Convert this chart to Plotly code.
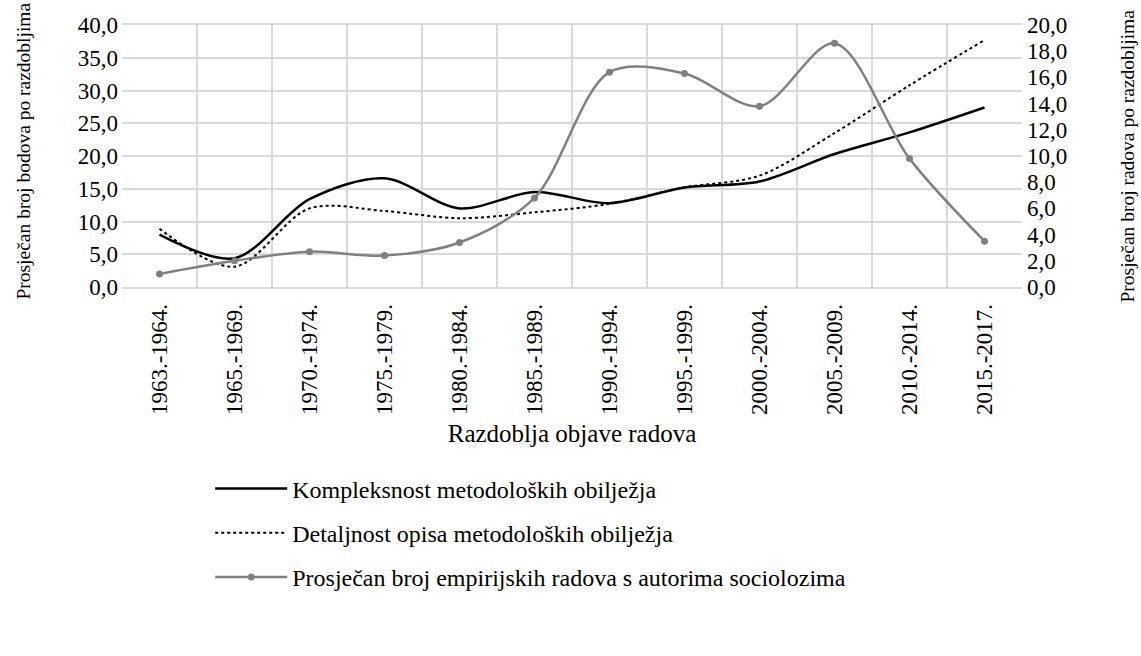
import plotly.graph_objects as go

razdoblja = ['1963.-1964.', '1965.-1969.', '1970.-1974.', '1975.-1979.', '1980.-1984.',
             '1985.-1989.', '1990.-1994.', '1995.-1999.', '2000.-2004.', '2005.-2009.',
             '2010.-2014.', '2015.-2017.']
kompleksnost = [8.0, 4.4, 13.4, 16.6, 12.0, 14.5, 12.8, 15.2, 16.1, 20.3, 23.6, 27.4]
detaljnost = [8.9, 3.1, 12.0, 11.6, 10.5, 11.4, 12.7, 15.2, 17.0, 23.5, 30.8, 37.7]
empirijski = [1.0, 2.0, 2.7, 2.4, 3.4, 6.8, 16.4, 16.3, 13.8, 18.6, 9.8, 3.5]

serif = 'Liberation Serif'
grid = '#d9d9d9'


def txt(size):
    return dict(family=serif, size=size, color='black')


fig = go.Figure()

fig.add_trace(go.Scatter(
    x=razdoblja, y=kompleksnost, mode='lines', name='Kompleksnost metodoloških obilježja',
    line=dict(color='black', width=2.5, shape='spline', smoothing=0.9),
    legendgroup='a'
))
fig.add_trace(go.Scatter(
    x=razdoblja, y=detaljnost, mode='lines', name='Detaljnost opisa metodoloških obilježja',
    line=dict(color='black', width=2, dash='dot', shape='spline', smoothing=0.9),
    legendgroup='b'
))
fig.add_trace(go.Scatter(
    x=razdoblja, y=empirijski, mode='lines+markers',
    name='Prosječan broj empirijskih radova s autorima sociolozima',
    line=dict(color='#808080', width=2.5, shape='spline', smoothing=0.9),
    marker=dict(color='#808080', size=7),
    yaxis='y2', legendgroup='c'
))

fig.update_layout(
    width=1141, height=656,
    plot_bgcolor='white', paper_bgcolor='white',
    separators=', ',
    font=txt(23),
    margin=dict(l=122, r=119, t=25, b=369, autoexpand=False),
    showlegend=True,
    legend=dict(x=0.098, y=-0.685, xanchor='left', yanchor='top',
                font=txt(24), tracegroupgap=10, itemwidth=72,
                bgcolor='rgba(0,0,0,0)'),
    xaxis=dict(
        type='category', range=[-0.5, 11.5], tickson='boundaries',
        showgrid=True, gridcolor=grid, gridwidth=1.5,
        tickangle=-90, ticks='', showline=True, linecolor=grid, linewidth=1.5, mirror=True,
        automargin=False, ticklabelstandoff=6,
        title=dict(text='Razdoblja objave radova', standoff=10, font=txt(25)),
        tickfont=txt(23),
    ),
    yaxis=dict(
        range=[0, 40], dtick=5, tickformat='.1f', showgrid=True, gridcolor=grid, gridwidth=1.5,
        zeroline=False, showline=False, ticks='', automargin=False, ticklabelstandoff=3,
        tickfont=txt(23),
    ),
    yaxis2=dict(
        range=[0, 20], dtick=2, tickformat='.1f', overlaying='y', side='right',
        showgrid=False, zeroline=False, showline=False, ticks='', automargin=False,
        ticklabelstandoff=4, tickfont=txt(23),
    ),
)

fig.add_annotation(text='Prosječan broj bodova po razdobljima', textangle=-90,
                   xref='paper', yref='paper', x=-0.123, y=0.52, showarrow=False, font=txt(19.5))
fig.add_annotation(text='Prosječan broj radova po razdobljima', textangle=-90,
                   xref='paper', yref='paper', x=1.13, y=0.5, showarrow=False, font=txt(19.5))

fig.write_html('out.html', post_script="document.body.style.margin='0';",
               config={'displayModeBar': False})
